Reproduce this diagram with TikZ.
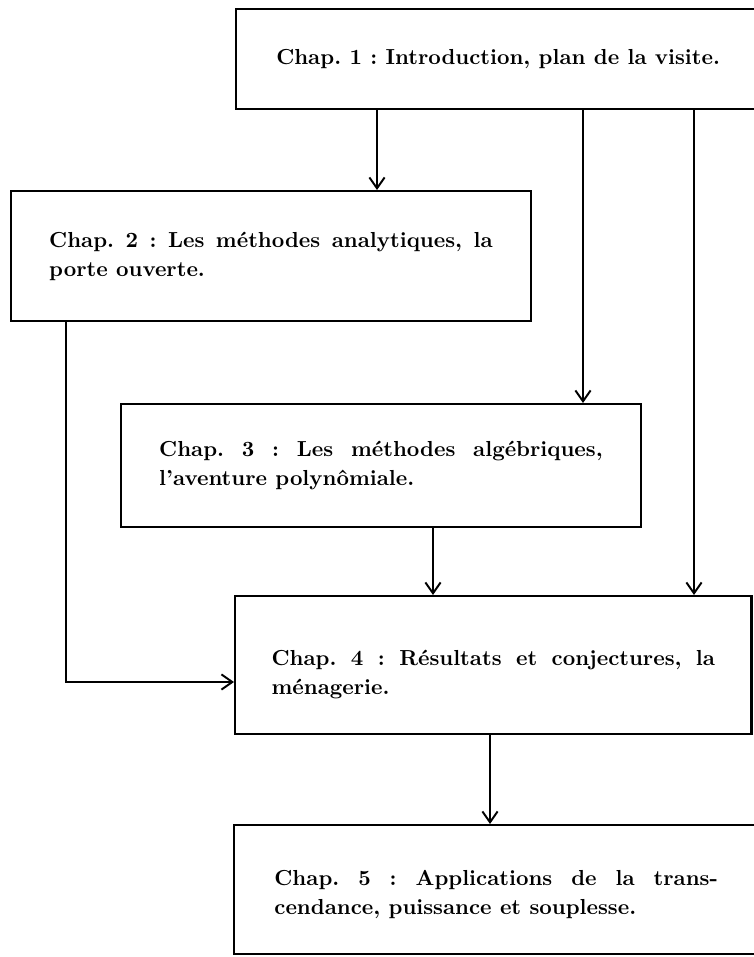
\documentclass[tikz,border=0pt]{standalone}
\usepackage{tikz}
\usetikzlibrary{arrows.meta}

\begin{document}
\begin{tikzpicture}[
    x=0.46pt, y=-0.46pt,
    box/.style={rectangle, draw, line width=1.1pt, anchor=north west, inner xsep=17.5pt, font=\bfseries\fontsize{10}{13.3}\selectfont\frenchspacing},
    chapbox/.style={box, text width=204pt, align=justify, minimum width=239pt},
    lower/.style={execute at begin node={\rule{0pt}{#1}}},
    link_arrow/.style={-{Straight Barb[length=5pt, width=7pt, line width=0.9pt]}, line width=0.9pt}
]
    \useasboundingbox (0,0) rectangle (753,957);

    % Chapitres
    \node[box, minimum width=241pt, minimum height=46pt] (C1) at (235,8) {Chap. 1 : Introduction, plan de la visite.};
    \node[chapbox, minimum height=59.8pt] (C2) at (10,190) {Chap. 2 : Les méthodes analytiques, la\linebreak porte ouverte.};
    \node[chapbox, minimum height=56.6pt] (C3) at (120,403) {Chap. 3 : Les méthodes algébriques,\linebreak l'aventure polynômiale.};
    \node[chapbox, lower=16pt, inner xsep=16.75pt, minimum width=237.5pt, minimum height=63.5pt] (C4) at (234,595) {Chap. 4 : Résultats et conjectures, la\linebreak ménagerie.};
    \node[chapbox, lower=11.5pt, minimum width=241pt, minimum height=59.3pt] (C5) at (233,824) {Chap. 5 : Applications de la trans-\linebreak cendance, puissance et souplesse.};

    % Abscisses des liens
    \coordinate (x12) at (377,0);
    \coordinate (x13) at (583,0);
    \coordinate (x14) at (694,0);
    \coordinate (x24) at (66,0);
    \coordinate (y24) at (0,682);
    \coordinate (x34) at (433,0);
    \coordinate (x45) at (490,0);

    % Liens
    \draw[link_arrow] (C1.south -| x12) -- (C2.north -| x12);
    \draw[link_arrow] (C1.south -| x13) -- (C3.north -| x13);
    \draw[link_arrow] (C1.south -| x14) -- (C4.north -| x14);
    \draw[link_arrow] (C2.south -| x24) |- (C4.west |- y24);
    \draw[link_arrow] (C3.south -| x34) -- (C4.north -| x34);
    \draw[link_arrow] (C4.south -| x45) -- (C5.north -| x45);
\end{tikzpicture}
\end{document}
